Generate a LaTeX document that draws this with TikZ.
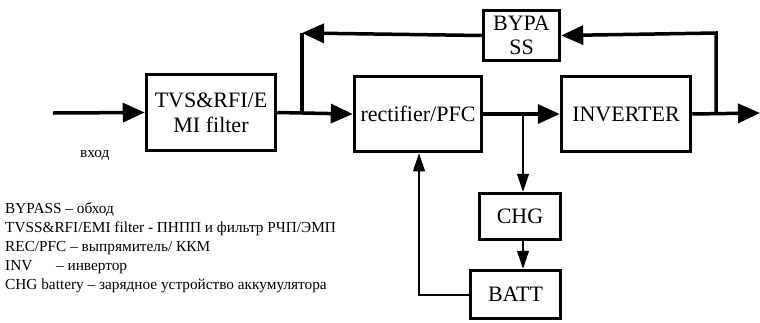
\documentclass[tikz,border=0pt]{standalone}
\usepackage{fontspec}
\setmainfont{Liberation Serif}
\usetikzlibrary{arrows.meta}
\begin{document}
\begin{tikzpicture}[x=1pt,y=-1pt,
  blk/.style={draw,line width=3.5pt,inner sep=0pt,align=center,font=\fontsize{22}{25}\selectfont},
  thick line/.style={line width=3.5pt},
  thin line/.style={line width=1.2pt},
  bigarr/.style={-{Triangle[length=22pt,width=19pt]}},
  smallarr/.style={-{Triangle[length=18pt,width=12pt]}},
  lbl/.style={font=\fontsize{15.3}{19}\selectfont,inner sep=0pt}]
\useasboundingbox (0,0) rectangle (760,322);
\node[blk,minimum width=129pt,minimum height=76pt] (tvs) at (211,112.5) {TVS\&RFI/E\\MI filter};
\node[blk,minimum width=127pt,minimum height=75pt] (rect) at (418,114) {rectifier/PFC};
\node[blk,minimum width=129pt,minimum height=75pt] (inv) at (626,114) {INVERTER};
\node[blk,minimum width=76pt,minimum height=50pt] (byp) at (521.5,35.5) {BYPA\\[-1pt]SS};
\node[blk,minimum width=81pt,minimum height=46pt] (chg) at (520,216.5) {CHG};
\node[blk,minimum width=90pt,minimum height=48pt] (batt) at (515.5,294.5) {BATT};
\node[lbl,anchor=west] (vhod) at (80,155) {вход};
\node[lbl,anchor=north west,align=left] (leg) at (5,202) {BYPASS – обход\\
TVSS\&RFI/EMI filter - ПНПП и фильтр РЧП/ЭМП\\
REC/PFC – выпрямитель/ ККМ\\
INV\hspace{1.3em} – инвертор\\
CHG battery – зарядное устройство аккумулятора};
\coordinate (in) at (53,113);
\coordinate (out) at (760,113);
\coordinate (j1) at (302,113);
\coordinate (j1t) at (302,33);
\coordinate (j2) at (523,113);
\coordinate (j3) at (716,113);
\coordinate (j3t) at (716,33);
\coordinate (bl) at (419,295);
\draw[thick line,bigarr] (in) -- (tvs.west);
\draw[thick line,bigarr] (tvs.east) -- (rect.west);
\draw[thick line] (j1) -- (j1t);
\draw[thick line,bigarr] (byp.west) -- (j1t);
\draw[thick line,bigarr] (rect.east) -- (inv.west);
\draw[thick line,bigarr] (inv.east) -- (out);
\draw[thick line,bigarr] (j3) -- (j3t) -- (byp.east);
\draw[thin line,smallarr] (j2) -- (j2 |- chg.north);
\draw[thin line,smallarr] (chg.south -| j2) -- (j2 |- batt.north);
\draw[thin line,smallarr] (batt.west |- bl) -- (bl) -- (bl |- rect.south);
\end{tikzpicture}
\end{document}
